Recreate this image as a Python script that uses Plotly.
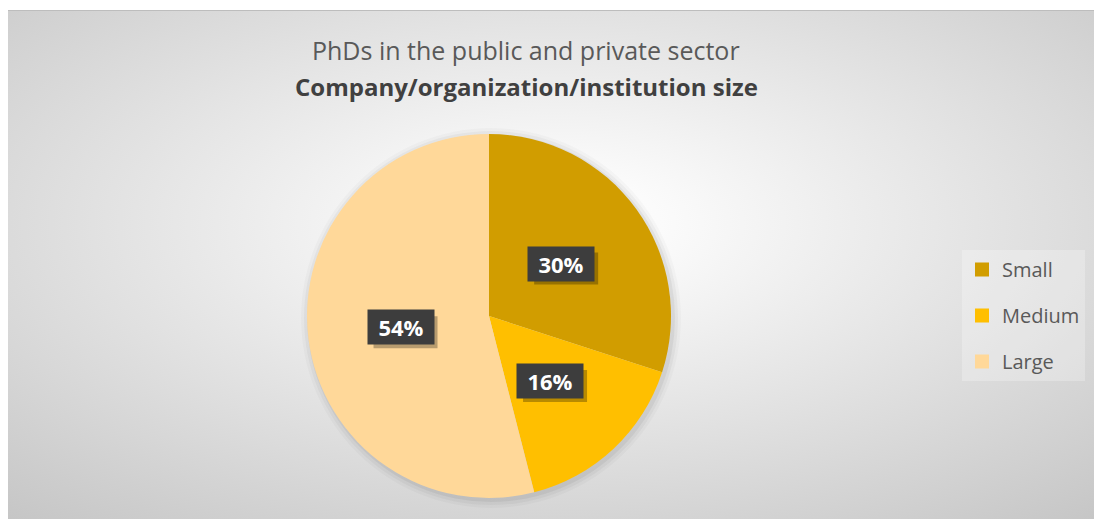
import base64, math
import plotly.graph_objects as go

# ---- data ----
categories = ["Small", "Medium", "Large"]
shares = [30, 16, 54]
colors = ["#D19D00", "#FFBF00", "#FFD899"]

title_line1 = "PhDs in the public and private sector"
title_line2 = "Company/organization/institution size"

# page has an 8px body margin; work in screen pixels and convert
OX, OY = 8, 8
W, H = 1094, 511
# pie geometry (screen pixels)
CX, CY, R = 489, 316, 182
LABEL_K = 0.49
BOX_W, BOX_H = 64, 32

def px(x):
    return (x - OX) / W

def py(y):
    return 1 - (y - OY) / H

fig = go.Figure()

fig.add_trace(go.Pie(
    labels=categories, values=shares, sort=False, direction="clockwise",
    rotation=0, marker=dict(colors=colors, line=dict(width=0)),
    textinfo="none", hoverinfo="label+percent", showlegend=False,
    domain=dict(x=[px(CX - R), px(CX + R)], y=[py(CY + R), py(CY - R)]),
))

# legend via dummy traces (one group each for spacing control)
for c, col in zip(categories, colors):
    fig.add_trace(go.Scatter(x=[None], y=[None], mode="markers", name=c,
                             legendgroup=c,
                             marker=dict(symbol="square", size=14, color=col)))

# background radial gradient
svg = ('<svg xmlns="http://www.w3.org/2000/svg" width="1100" height="510" viewBox="0 0 1100 510" preserveAspectRatio="none">'
       '<defs><radialGradient id="g" cx="0.5" cy="0.42" r="0.8">'
       '<stop offset="0" stop-color="#ffffff"/><stop offset="0.12" stop-color="#fbfbfb"/>'
       '<stop offset="1" stop-color="#c3c3c3"/></radialGradient></defs>'
       '<rect width="1100" height="510" fill="url(#g)"/></svg>')
src = "data:image/svg+xml;base64," + base64.b64encode(svg.encode()).decode()
fig.add_layout_image(dict(source=src, xref="paper", yref="paper", x=0, y=py(10),
                          sizex=1, sizey=(H - 2) / H, sizing="stretch",
                          xanchor="left", yanchor="top", layer="below"))

shapes = [
    dict(type="line", xref="paper", yref="paper", x0=0, x1=1, y0=py(10.5), y1=py(10.5),
         line=dict(color="#bdbdbd", width=1)),
]
for extra, op in [(8, 0.025), (5, 0.035), (2, 0.05)]:
    shapes.append(dict(type="circle", xref="paper", yref="paper", layer="below",
                       x0=px(CX - R - extra + 2), x1=px(CX + R + extra + 2),
                       y0=py(CY + R + extra + 2), y1=py(CY - R - extra + 2),
                       fillcolor=f"rgba(0,0,0,{op})", line=dict(width=0)))

annotations = []
# title
annotations.append(dict(text=title_line1, x=px(526), y=py(50), xref="paper", yref="paper",
                        xanchor="center", yanchor="middle", showarrow=False,
                        font=dict(family="Open Sans", size=25, color="#595959")))
annotations.append(dict(text="<b>" + title_line2 + "</b>", x=px(526), y=py(86), xref="paper", yref="paper",
                        xanchor="center", yanchor="middle", showarrow=False,
                        font=dict(family="Open Sans", size=24, color="#404040")))

# data labels computed from slice angles
total = sum(shares)
start = 0.0
for v in shares:
    frac = v / total
    mid = (start + frac / 2) * 2 * math.pi
    start += frac
    lx = CX + LABEL_K * R * math.sin(mid)
    ly = CY - LABEL_K * R * math.cos(mid)
    txt = f"<b>{round(100 * frac)}%</b>"
    # drop shadow of label box
    shapes.append(dict(type="rect", xref="paper", yref="paper", layer="above",
                       x0=px(lx + 5 - BOX_W / 2), x1=px(lx + 5 + BOX_W / 2),
                       y0=py(ly + 5 + BOX_H / 2), y1=py(ly + 5 - BOX_H / 2),
                       fillcolor="rgba(0,0,0,0.28)", line=dict(width=0)))
    annotations.append(dict(text=txt, x=px(lx), y=py(ly), xref="paper", yref="paper",
                            xanchor="center", yanchor="middle",
                            showarrow=False, width=BOX_W, height=BOX_H, bgcolor="#3d3d3d",
                            font=dict(family="Open Sans", size=22, color="#ffffff")))

fig.update_layout(
    width=W, height=H, margin=dict(l=0, r=0, t=0, b=0),
    paper_bgcolor="#ffffff", plot_bgcolor="rgba(0,0,0,0)",
    xaxis=dict(visible=False), yaxis=dict(visible=False),
    shapes=shapes, annotations=annotations,
    legend=dict(x=px(962), y=py(250), xanchor="left", yanchor="top",
                bgcolor="rgba(255,255,255,0.25)", tracegroupgap=17,
                font=dict(family="Open Sans", size=20, color="#595959"),
                itemclick=False),
)

fig.write_html("out.html")
